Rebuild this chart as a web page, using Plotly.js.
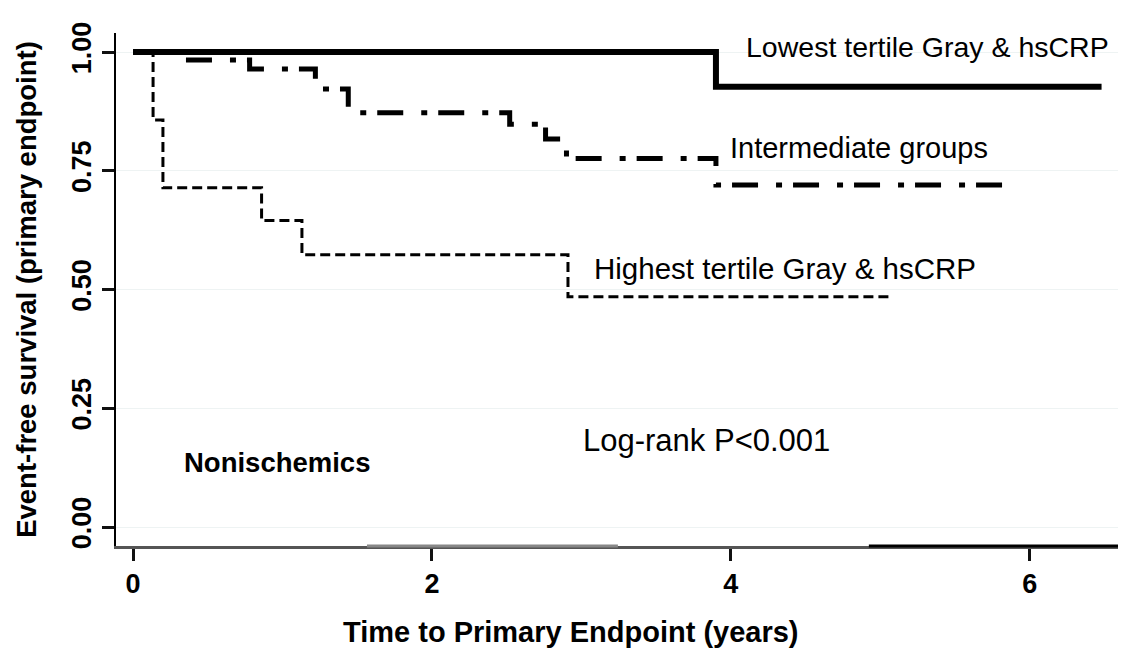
<!DOCTYPE html>
<html>
<head>
<meta charset="utf-8">
<script src="https://cdn.plot.ly/plotly-3.0.1.min.js"></script>
<style>html,body{margin:0;padding:0;background:#fff;}#chart{width:1121px;height:649px;}</style>
</head>
<body>
<div id="chart"></div>
<script>
// Kaplan-Meier step data
var lowX  = [0, 3.9, 6.48];
var lowY  = [1.0, 0.927, 0.927];
var intX  = [0, 0.35, 0.78, 1.22, 1.44, 2.52, 2.76, 2.9, 3.9, 5.87];
var intY  = [1.0, 0.983, 0.964, 0.922, 0.872, 0.848, 0.817, 0.776, 0.72, 0.72];
var highX = [0, 0.134, 0.2, 0.86, 1.13, 2.91, 5.06];
var highY = [1.0, 0.857, 0.714, 0.645, 0.573, 0.485, 0.485];

var xTicks = [0, 2, 4, 6];
var yTicks = [0, 0.25, 0.5, 0.75, 1.0];
var yTickText = ['0.00', '0.25', '0.50', '0.75', '1.00'];

var xTitle = 'Time to Primary Endpoint (years)';
var yTitle = 'Event-free survival (primary endpoint)';

var labels = [
  {text: 'Lowest tertile Gray &amp; hsCRP', x: 4.09, y: 1.011, size: 28.5, bold: false},
  {text: 'Intermediate groups', x: 3.98, y: 0.798, size: 29, bold: false},
  {text: 'Highest tertile Gray &amp; hsCRP', x: 3.07, y: 0.545, size: 29.5, bold: false},
  {text: 'Log-rank P&lt;0.001', x: 3.0, y: 0.183, size: 31, bold: false},
  {text: 'Nonischemics', x: 0.33, y: 0.135, size: 27.5, bold: true}
];

var FONT = 'Liberation Sans, Arial, sans-serif';

var traces = [
  {x: intX, y: intY, mode: 'lines', line: {shape: 'hv', color: '#000', width: 5, dash: '26px,18px,6px,11px'}, hoverinfo: 'skip'},
  {x: highX, y: highY, mode: 'lines', line: {shape: 'hv', color: '#000', width: 3, dash: '10px,5px'}, hoverinfo: 'skip'},
  {x: lowX, y: lowY, mode: 'lines', line: {shape: 'hv', color: '#000', width: 6}, hoverinfo: 'skip'}
];

var annotations = labels.map(function (l) {
  return {
    text: l.bold ? '<b>' + l.text + '</b>' : l.text,
    x: l.x, y: l.y, xref: 'x', yref: 'y',
    xanchor: 'left', yanchor: 'middle', showarrow: false,
    font: {family: FONT, size: l.size, color: '#000'}
  };
});
annotations.push({
  text: '<b>' + xTitle + '</b>', xref: 'paper', yref: 'paper', x: 0.454, y: -0.168,
  xanchor: 'center', yanchor: 'middle', showarrow: false,
  font: {family: FONT, size: 29, color: '#000'}
});

var layout = {
  width: 1121, height: 649,
  margin: {l: 116, r: 3, t: 33, b: 103},
  paper_bgcolor: '#fff', plot_bgcolor: '#fff',
  showlegend: false,
  xaxis: {
    range: [-0.114, 6.59], tickvals: xTicks, ticktext: xTicks.map(String),
    showgrid: false, zeroline: false,
    showline: true, linecolor: '#555', linewidth: 3,
    ticks: 'outside', ticklen: 12, tickwidth: 3, tickcolor: '#111',
    tickfont: {family: FONT, size: 27, color: '#000', weight: 'bold'}
  },
  yaxis: {
    range: [-0.04, 1.04], tickvals: yTicks, ticktext: yTickText, tickangle: -90,
    showgrid: true, gridcolor: '#eef3f3', gridwidth: 1, zeroline: false,
    showline: true, linecolor: '#000', linewidth: 2,
    ticks: 'outside', ticklen: 12, tickwidth: 3, tickcolor: '#111',
    tickfont: {family: FONT, size: 27, color: '#000', weight: 'bold'},
    title: {text: '<b>' + yTitle + '</b>', font: {family: FONT, size: 27.5, color: '#000'}, standoff: 23}
  },
  shapes: [
    {type: 'line', xref: 'x', yref: 'paper', x0: 1.565, x1: 3.244, y0: 0, y1: 0, line: {color: '#888', width: 3}, layer: 'above'},
    {type: 'line', xref: 'x', yref: 'paper', x0: 4.923, x1: 6.59, y0: 0, y1: 0, line: {color: '#000', width: 3}, layer: 'above'}
  ],
  annotations: annotations
};

Plotly.newPlot('chart', traces, layout, {staticPlot: true, displayModeBar: false});
</script>
</body>
</html>
